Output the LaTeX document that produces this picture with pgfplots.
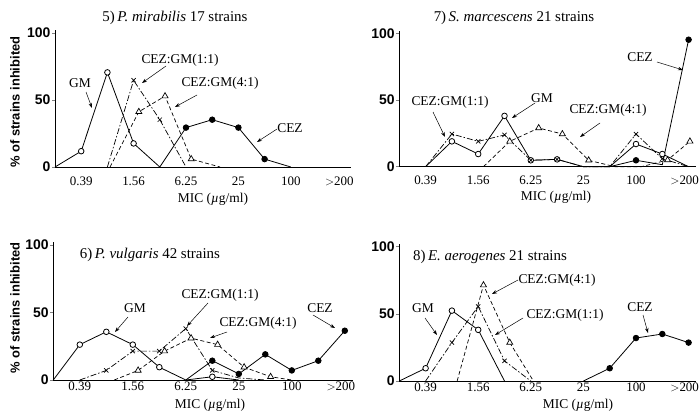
\documentclass[border=0pt]{standalone}
\usepackage{fontspec}
\setmainfont{Liberation Serif}
\setsansfont{Liberation Sans}
\usepackage{pgfplots}
\pgfplotsset{compat=1.18}
\usetikzlibrary{arrows.meta}

\pgfplotsset{
  panel/.style={
    anchor=south west,
    xmin=0, xmax=11.3, ymin=0, ymax=102,
    axis lines=left,
    axis line style={-, line width=0.8pt},
    clip=false,
    xtick={1,3,5,7,9,10.85},
    xticklabels={0.39,1.56,6.25,25,100,{$>$200}},
    ytick={0,50,100},
    yticklabels={0,50,100},
    xtick style={draw=none},
    ytick style={line width=0.6pt},
    tick align=outside,
    major tick length=3bp,
    x tick label style={font=\fontsize{13}{13}\selectfont, yshift=-3bp},
    y tick label style={font=\fontsize{14}{14}\selectfont\sffamily\bfseries, inner sep=1.5bp},
  },
  lower/.style={x tick label style={yshift=8bp}},
  gm/.style={black, solid, line width=0.8pt, mark=*, mark size=2.8bp, mark options={solid, fill=white}},
  cez/.style={black, solid, line width=0.8pt, mark=*, mark size=2.8bp, mark options={solid, fill=black}},
  one/.style={black, line width=0.7pt, dash pattern=on 6bp off 2bp on 1.5bp off 2bp, mark=x, mark size=3bp, mark options={solid}},
  four/.style={black, line width=0.7pt, dash pattern=on 4bp off 2.5bp, mark=triangle*, mark size=3.5bp, mark options={solid, fill=white}},
}

\begin{document}
\begin{tikzpicture}
\path[use as bounding box] (0bp,0bp) rectangle (699bp,-418bp);

% 5) P. mirabilis
\begin{axis}[panel, at={(55bp,-167bp)}, x=26.2bp, y=1.34bp]
\addplot[gm, mark indices={2,3,4}] coordinates {(0,0)(1,11.8)(2,70.6)(3,17.6)(4,0)};
\addplot[one, mark indices={2,3}] coordinates {(2,0)(3,64.7)(4,35.3)(5,0)};
\addplot[four, mark indices={2,3,4}] coordinates {(2.1,0)(3.2,41.2)(4.2,52.9)(5.2,5.9)(6.3,0)};
\addplot[cez, mark indices={2,3,4,5}] coordinates {(4,0)(5,29.4)(6,35.3)(7,29.4)(8,5.9)(9,0)};
\end{axis}

% 7) S. marcescens
\begin{axis}[panel, at={(399.3bp,-166.7bp)}, x=26.3bp, y=1.334bp]
\addplot[gm, mark indices={2,3,4,5,6,9,10}] coordinates {(1,0)(2,19)(3,9.5)(4,38.1)(5,4.8)(6,5.5)(7,0)(8,0)(9,17)(10,9.5)(11,0)};
\addplot[one, mark indices={2,3,4,5,6,9,10}] coordinates {(1,0)(2,24.5)(3,19)(4,23.8)(5,4.8)(6,5.5)(7,0)(8,0)(9,24.5)(10,6)(11,0)};
\addplot[four, mark indices={2,3,4,5,8,9}] coordinates {(3.2,0)(4.2,19)(5.3,29)(6.2,24.5)(7.2,4.8)(8.2,0)(9.2,0)(10.2,5)(11.05,19)};
\addplot[cez, mark indices={2,4}] coordinates {(8,0)(9,4.8)(10,1.5)(11,95.2)};
\end{axis}

% 6) P. vulgaris
\begin{axis}[panel, lower, at={(53.3bp,-380bp)}, x=26.5bp, y=1.35bp]
\addplot[gm, mark indices={2,3,4,5,7}] coordinates {(0,0)(1,26.2)(2,35.7)(3,26.2)(4,9.5)(5,0)(6,2.4)(7,0)};
\addplot[one, mark indices={2,3,4,5,6}] coordinates {(1,0)(2,7.1)(3,21.4)(4,21.4)(5,38.1)(6,7.1)(7,1.5)(8,0)};
\addplot[four, mark indices={2,3,4,5,6,7}] coordinates {(2.3,0)(3.2,7.1)(4.2,21.4)(5.2,31)(6.2,26.2)(7.2,9.5)(8.2,2.4)(9,0)};
\addplot[cez, mark indices={2,3,4,5,6,7}] coordinates {(5,0)(6,14.3)(7,4.5)(8,19)(9,7.1)(10,14.3)(11,36.5)};
\end{axis}

% 8) E. aerogenes
\begin{axis}[panel, lower, at={(399.3bp,-381bp)}, x=26.3bp, y=1.343bp]
\addplot[gm, mark indices={2,3,4}] coordinates {(0,0)(1,9.5)(2,52.4)(3,38.1)(4,0)};
\addplot[one, mark indices={2,3,4}] coordinates {(1,0)(2,28.6)(3,55.5)(4,15)(5,0)};
\addplot[four, mark indices={2,3}] coordinates {(2.2,0)(3.2,71.4)(4.2,28.6)(5.1,0)};
\addplot[cez, mark indices={2,3,4,5}] coordinates {(7,0)(8,9.5)(9,32)(10,35)(11,28.6)};
\end{axis}

\begin{scope}[x=1bp,y=-1bp, font=\fontsize{13.5}{13.5}\selectfont,
  arr/.style={-{Stealth[length=5bp,width=3.5bp]}, line width=0.5pt}]
% titles
\node[font=\fontsize{15}{15}\selectfont] at (175,18) {5)\,\textit{P. mirabilis} 17 strains};
\node[font=\fontsize{15}{15}\selectfont] at (514,18) {7)\,\textit{S. marcescens} 21 strains};
\node[font=\fontsize{15}{15}\selectfont] at (150,255) {6)\,\textit{P. vulgaris} 42 strains};
\node[font=\fontsize{15}{15}\selectfont] at (490,257) {8)\,\textit{E. aerogenes} 21 strains};
% y labels
\node[rotate=90, font=\fontsize{13}{13}\selectfont\sffamily\bfseries] at (15,102) {\% of strains inhibited};
\node[rotate=90, font=\fontsize{13}{13}\selectfont\sffamily\bfseries] at (15,308) {\% of strains inhibited};
% x labels
\node at (213,199) {MIC (\textit{µ}g/ml)};
\node at (556,197) {MIC (\textit{µ}g/ml)};
\node at (210,405) {MIC (\textit{µ}g/ml)};
\node at (578,405) {MIC (\textit{µ}g/ml)};
% panel 5
\node at (80,83) {GM};
\draw[arr] (86,92) -- (92,108);
\node at (180,60) {CEZ:GM(1:1)};
\draw[arr] (166,66) -- (142,83);
\node at (220,83) {CEZ:GM(4:1)};
\draw[arr] (197,95) -- (175,107);
\node at (290,128) {CEZ};
\draw[arr] (277,129) -- (257,142);
% panel 7
\node at (640,57) {CEZ};
\draw[arr] (657,62) -- (683,70);
\node at (450,102) {CEZ:GM(1:1)};
\draw[arr] (433,112) -- (445,137);
\node at (542,98) {GM};
\draw[arr] (535,103) -- (512,118);
\node at (608,110) {CEZ:GM(4:1)};
\draw[arr] (600,123) -- (580,137);
% panel 6
\node at (135,308) {GM};
\draw[arr] (128,317) -- (115,332);
\node at (220,295) {CEZ:GM(1:1)};
\draw[arr] (208,303) -- (187,326);
\node at (258,323) {CEZ:GM(4:1)};
\draw[arr] (227,332) -- (210,338);
\node at (320,308) {CEZ};
\draw[arr] (313,315) -- (335,328);
% panel 8
\node at (423,308) {GM};
\draw[arr] (425,318) -- (437,335);
\node at (557,280) {CEZ:GM(4:1)};
\draw[arr] (518,280) -- (492,294);
\node at (565,315) {CEZ:GM(1:1)};
\draw[arr] (523,318) -- (495,335);
\node at (640,307) {CEZ};
\draw[arr] (643,315) -- (648,333);
\end{scope}
\end{tikzpicture}
\end{document}
